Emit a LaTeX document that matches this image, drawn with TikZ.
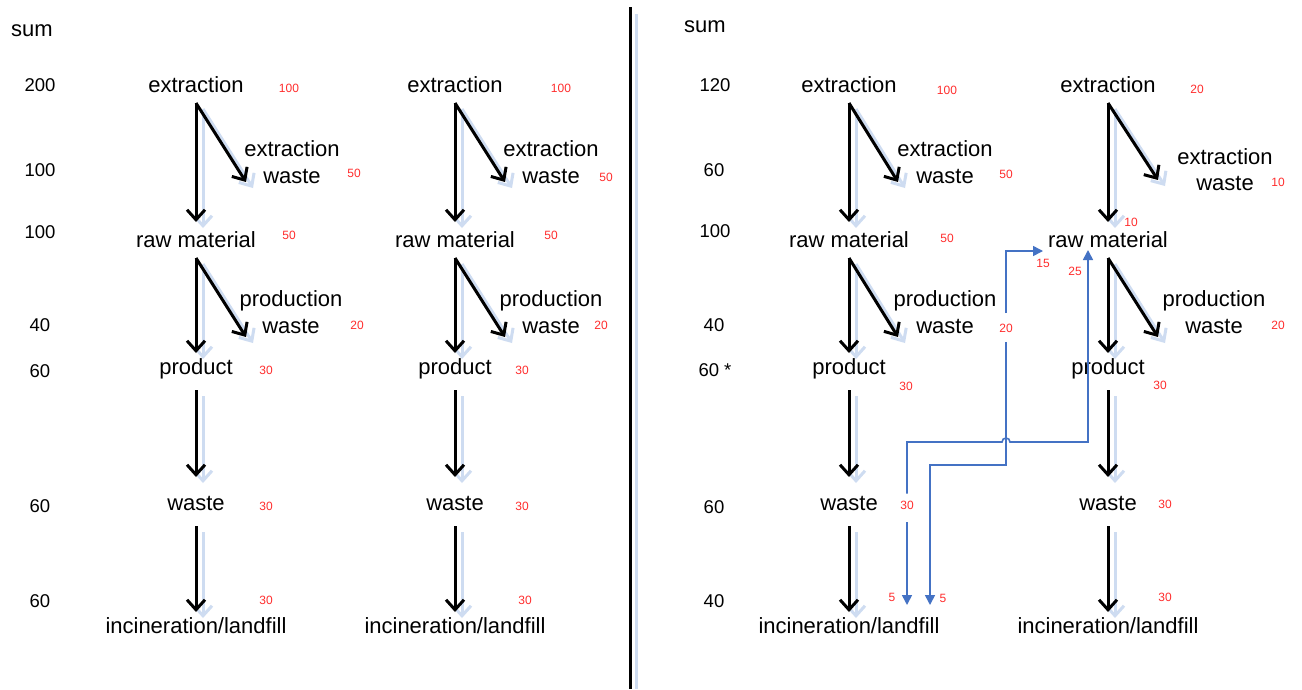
\documentclass[tikz,border=0pt]{standalone}
\usepackage{fontspec}
\setmainfont{Liberation Sans}
\usetikzlibrary{arrows.meta}

\definecolor{shadowblue}{RGB}{206,220,241}
\definecolor{flowblue}{RGB}{68,114,196}
\definecolor{qty}{RGB}{255,45,45}

% black flow arrow with a pale blue drop shadow
\newcommand\mainflow[3][]{%
  \draw[mainarrow,draw=shadowblue,#1,transform canvas={shift={(7pt,-6pt)}}] #2 -- #3;
  \draw[mainarrow,#1] #2 -- #3;}

\begin{document}
\begin{tikzpicture}[x=1pt,y=-1pt,
  stage/.style={font=\fontsize{22}{26.5}\selectfont, inner sep=0pt,
                text height=16pt, text depth=1pt, outer ysep=9.5pt},
  wastebox/.style={font=\fontsize{22}{26.5}\selectfont, inner sep=0pt, align=center},
  amount/.style={font=\fontsize{12}{14}\selectfont, text=qty, inner sep=1pt},
  total/.style={font=\fontsize{18.5}{22}\selectfont, inner sep=0pt},
  sumhead/.style={font=\fontsize{22}{26}\selectfont, inner sep=0pt},
  mainarrow/.style={line width=3pt, line join=miter,
                    -{Straight Barb[length=10pt,width=18pt]}},
  flowarrow/.style={draw=flowblue, line width=1.6pt,
                    -{Triangle[length=10pt,width=10pt]}},
]
\fill[white] (0,0) rectangle (1302,689);
\useasboundingbox (0,0) rectangle (1302,689);

% panel divider
\draw[draw=shadowblue, line width=3pt] (636,14) -- (636,689);
\draw[line width=3pt] (630,7) -- (630,689);

% ---------------- left panel: sums ----------------
\node[sumhead] (lsum) at (32,31) {sum};
\node[total] (lt1) at (40,85) {200};
\node[total] (lt2) at (40,170) {100};
\node[total] (lt3) at (40,232) {100};
\node[total] (lt4) at (40,325) {40};
\node[total] (lt5) at (40,371) {60};
\node[total] (lt6) at (40,506) {60};
\node[total] (lt7) at (40,601) {60};

% column 1
\node[stage] (ext1) at (196,85) {extraction};
\node[stage] (raw1) at (196,240) {raw material};
\node[stage] (prod1) at (196,367) {product};
\node[stage] (wst1) at (196,503) {waste};
\node[stage] (inc1) at (196,626) {incineration/landfill};
\node[wastebox] (ew1) at (292,162) {extraction\\waste};
\node[wastebox] (pw1) at (291,312) {production\\waste};
\coordinate (ew1tip) at (246,182);
\coordinate (pw1tip) at (246,337);
\node[amount] (a1ext) at (289,88) {100};
\node[amount] (a1ew) at (354,173) {50};
\node[amount] (a1raw) at (289,235) {50};
\node[amount] (a1pw) at (357,325) {20};
\node[amount] (a1prod) at (266,370) {30};
\node[amount] (a1wst) at (266,506) {30};
\node[amount] (a1inc) at (266,600) {30};

% column 2
\node[stage] (ext2) at (455,85) {extraction};
\node[stage] (raw2) at (455,240) {raw material};
\node[stage] (prod2) at (455,367) {product};
\node[stage] (wst2) at (455,503) {waste};
\node[stage] (inc2) at (455,626) {incineration/landfill};
\node[wastebox] (ew2) at (551,162) {extraction\\waste};
\node[wastebox] (pw2) at (551,312) {production\\waste};
\coordinate (ew2tip) at (505,182);
\coordinate (pw2tip) at (505,337);
\node[amount] (a2ext) at (561,88) {100};
\node[amount] (a2ew) at (606,177) {50};
\node[amount] (a2raw) at (551,235) {50};
\node[amount] (a2pw) at (601,325) {20};
\node[amount] (a2prod) at (522,370) {30};
\node[amount] (a2wst) at (522,506) {30};
\node[amount] (a2inc) at (525,600) {30};

% ---------------- right panel: sums ----------------
\node[sumhead] (rsum) at (705,27) {sum};
\node[total] (rt1) at (715,85) {120};
\node[total] (rt2) at (714,170) {60};
\node[total] (rt3) at (715,231) {100};
\node[total] (rt4) at (714,325) {40};
\node[total] (rt5) at (715,370) {60 *};
\node[total] (rt6) at (714,507) {60};
\node[total] (rt7) at (714,601) {40};

% column 3
\node[stage] (ext3) at (849,85) {extraction};
\node[stage] (raw3) at (849,240) {raw material};
\node[stage] (prod3) at (849,367) {product};
\node[stage] (wst3) at (849,503) {waste};
\node[stage] (inc3) at (849,626) {incineration/landfill};
\node[wastebox] (ew3) at (945,162) {extraction\\waste};
\node[wastebox] (pw3) at (945,312) {production\\waste};
\coordinate (ew3tip) at (898,182);
\coordinate (pw3tip) at (898,337);
\node[amount] (a3ext) at (947,90) {100};
\node[amount] (a3ew) at (1006,174) {50};
\node[amount] (a3raw) at (947,238) {50};
\node[amount] (a3pw) at (1006,328) {20};
\node[amount] (a3prod) at (906,386) {30};
\node[amount] (a3wst) at (907,505) {30};
\node[amount] (a3incA) at (892,597) {5};
\node[amount] (a3incB) at (943,598) {5};

% column 4
\node[stage] (ext4) at (1108,85) {extraction};
\node[stage] (raw4) at (1108,240) {raw material};
\node[stage] (prod4) at (1108,367) {product};
\node[stage] (wst4) at (1108,503) {waste};
\node[stage] (inc4) at (1108,626) {incineration/landfill};
\node[wastebox] (ew4) at (1225,169.5) {extraction\\waste};
\node[wastebox] (pw4) at (1214,312) {production\\waste};
\coordinate (ew4tip) at (1158,180);
\coordinate (pw4tip) at (1158,337);
\node[amount] (a4ext) at (1197,89) {20};
\node[amount] (a4ew) at (1278,182) {10};
\node[amount] (a4rawin) at (1131,222) {10};
\node[amount] (a4pw) at (1278,325) {20};
\node[amount] (a4prod) at (1160,385) {30};
\node[amount] (a4wst) at (1165,504) {30};
\node[amount] (a4inc) at (1165,597) {30};
\node[amount] (a4r15) at (1043,263) {15};
\node[amount] (a4r25) at (1075,271) {25};

% ---------------- black flow arrows ----------------
\foreach \c in {1,2,3,4}{
  \mainflow{(ext\c.south)}{(raw\c.north)}
  \mainflow{(ext\c.south)}{(ew\c tip)}
  \mainflow[shorten >=-4pt]{(raw\c.south)}{(prod\c.north)}
  \mainflow{(raw\c.south)}{(pw\c tip)}
  \mainflow[shorten <=5pt, shorten >=8pt]{(prod\c.south)}{(wst\c.north)}
  \mainflow[shorten <=5pt, shorten >=-4pt]{(wst\c.south)}{(inc\c.north)}
}

% ---------------- recycling flows (blue) ----------------
\coordinate (kneeA) at (930,465);
\coordinate (kneeB) at (1088,442);
\coordinate (hopL) at (1002,442);
\coordinate (in3a) at (907,605);
\coordinate (in3b) at (930,605);
\coordinate (r15) at (1043,251);
\coordinate (r25) at (1088,250);

\draw[flowarrow, shorten <=9.5pt] (a3pw.north) |- (r15);
\draw[flowarrow, shorten <=8.5pt] (a3pw.south) |- (kneeA) -- (in3b);
\draw[flowarrow, shorten <=6pt] (a3wst.north) |- (hopL)
     arc[start angle=180, end angle=0, radius=4pt] -- (kneeB) -- (r25);
\draw[flowarrow, shorten <=12pt] (a3wst.south) -- (in3a);
\end{tikzpicture}
\end{document}
